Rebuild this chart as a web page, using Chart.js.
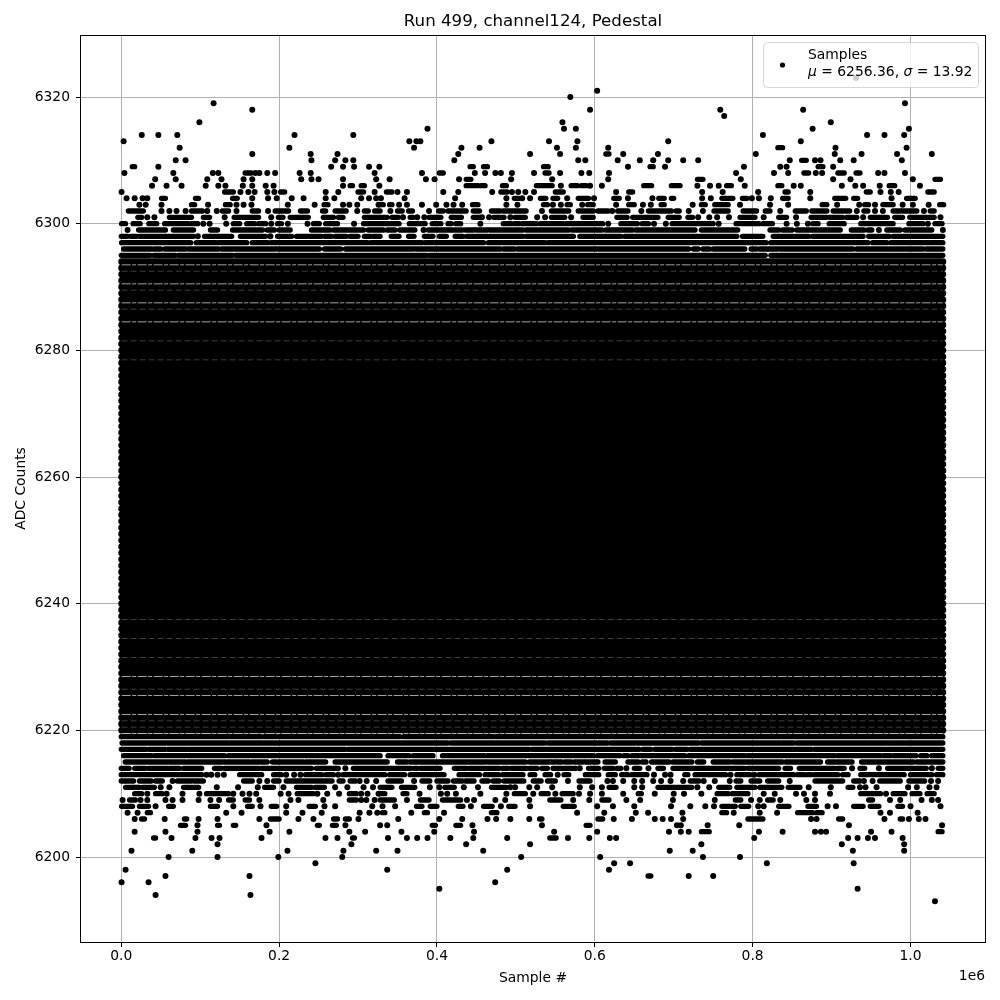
<!DOCTYPE html>
<html><head><meta charset="utf-8">
<script src="https://cdn.jsdelivr.net/npm/chart.js@4/dist/chart.umd.js"></script>
<style>html,body{margin:0;padding:0;background:#fff}#w{width:1000px;height:1000px}</style>
</head><body><div id="w"><canvas id="c" width="1000" height="1000"></canvas></div>
<script>
const chartTitle = "Run 499, channel124, Pedestal";
const xLabel = "Sample #";
const yLabel = "ADC Counts";
const xOffsetText = "1e6";
const legendName = "Samples";
const legendMu = "6256.36";
const legendSigma = "13.92";
const xTicks = [0, 200000, 400000, 600000, 800000, 1000000];
const yTicks = [6200, 6220, 6240, 6260, 6280, 6300, 6320];
const xRange = [-51000, 1094400];
const yRange = [6186.58, 6329.79];

// ADC levels hit for the whole run (thousands of samples, first to last)
const fullRun = [0.5, 1041];
const fullLevels = [6220,6221,6222,6223,6224,6225,6226,6227,6228,6229,6230,6231,6232,6233,6234,6235,6236,6237,6238,6239,6240,6241,6242,6243,6244,6245,6246,6247,6248,6249,6250,6251,6252,6253,6254,6255,6256,6257,6258,6259,6260,6261,6262,6263,6264,6265,6266,6267,6268,6269,6270,6271,6272,6273,6274,6275,6276,6277,6278,6279,6280,6281,6282,6283,6284,6285,6286,6287,6288,6289,6290,6291,6292,6293,6294];
// thin gaps between neighbouring levels
const strongGaps = [6219.5,6222.5,6225.5,6228.5,6284.5,6287.5,6290.5,6293.5];
const faintGaps = [6220.5,6221.5,6226.5,6231.5,6234.5,6237.5,6278.5,6281.5,6286.5,6289.5,6292.5];

// Sparse levels: a number is one sample (thousands), a pair is a run of touching samples
const rowLevels = [6323,6321,6320,6319,6318,6317,6316,6315,6314,6313,6312,6311,6310,6309,6308,6307,6306,6305,6304,6303,6302,6301,6300,6299,6298,6297,6296,6295,
 6219,6218,6217,6216,6215,6214,6213,6212,6211,6210,6209,6208,6207,6206,6205,6204,6203,6202,6201,6200,6199,6198,6197,6196,6195,6194,6193];
const rowSamples = [
/*6323*/[931],
/*6321*/[603],
/*6320*/[569],
/*6319*/[117,993],
/*6318*/[166,594,759,864],
/*6317*/[764],
/*6316*/[99,559,899],
/*6315*/[388,561,576,876,998],
/*6314*/[26,47,71,219.5,294,813,945,967,992],
/*6313*/[3,365,374,379,469,542,578,693,861],
/*6312*/[74,213,371,431,454,552,576,617,[832,838],905,995],
/*6311*/[166,240,274,427,518,556,[614,618],636,680,804,904,938,983,1027],
/*6310*/[69,81.5,241,271,284,294,422,579,588,629,657,674,693,712,731,847,[862,868],879,886,911,928,989],
/*6309*/[[14,17],47,266,281,295,314,327,[442,446],[459,464],[535,541],642,[670,674],689,789,835,843,[883,889],902],
/*6308*/[4,66,116,123,[157,165],170,175,185,195,226,240,321,381,[403,408],448,461,474,481,495,523,[537,542],556,583,593,618,779,827,845,[865,871],880,888,[908,916],[931,936],959,967,993],
/*6307*/[43,69,109,127,155,166,228,241,250,281,323,340,386,397,428,[437,443],494,546,617,[730,737],785,902,924,1003,[1031,1038]],
/*6306*/[39,57.4,76.4,107,123,132,154,166,183,193,281,[290,293],[304,308],327,[437,452],[456,461],[483,488],[526,546],557,[570,578],[583,589],594,609,[662,672],[697,708],730,746,757,[767,773],790,[832,837],852,861,913,930,940,961,[973,980],1012],
/*6305*/[0.4,[131,142],151,161,169,185,194,[202,207],259,275,[300,307],321,[336,343],350,362,408,427,470,[481,489],495,503,512,523,[550,560],627,[643,648],736,762,807,[841,845],873,[944,949],962,975,985,[1022,1030]],
/*6304*/[6.7,17,27,33,[51,56],[94,98],[141,147],166,186,197,216,231,259,270,304,314,323,329,359,423,488,[498,504],508,518,[531,538],[547,553],565,[579,592],599,[624,631],642,673,[681,688],[697,700],736,747,[761,775],[787,793],799,808,823,[838,845],873,[904,918],[928,933],976,[995,1006]],
/*6303*/[23,31,51,[89,93],110,[132,138],146,155,165,211,245,[257,262],281,289,299,326,[328,332],[340,343],352,362,381,399,412,421,432,[445,452],488,502,[535,540],547,557,[565,569],584,[591,598],627,[643,650],661,671,[684,688],724,[735,740],[752,769],784,822,845,[888,894],907,935,[942,947],955,[965,978],990,1003,1023,[1037,1042]],
/*6302*/[[9,28],51,61,70,81.5,[89,103],109,121,[128,136],146,[166,174],186,[195,212],[227,236],[255,259],[271,285],299,[308,313],[321,328],341,[350,356],[364,369],390,[402,408],[414,437],[446,454],[469,480],[484,513],533,[545,567],[579,598],[604,617],622,[629,642],659,[668,697],[703,707],719,737,[751,769],[788,805],[816,822],835,[854,868],[875,894],[902,923],932,[941,946],955,965,[978,987],[990,1008],1017,[1025,1030]],
/*6301*/[[21,26],33,42,[61,89],[104,112],131,[143,174],190,[199,205],[214,237],[256,269],[275,281],[308,337],[343,351],357,[366,370],375,384,[390,405],[418,431],[446,454],457,466,[472,485],493,[499,512],527,537,[545,562],570,[585,598],[628,641],[648,680],[693,707],[718,724],731,745,755,770,[784,803],814,[833,843],855,[874,894],[897,914],[919,932],940,[949,971],[980,990],[999,1016],[1018,1030],1038],
/*6300*/[[0.4,5.5],[15,24],[35,45],[55,85],[89,97],104,112,133,[142,150],[159,169],[174,183],190,[198,203],211,236,[243.5,251],[259,274],295,[307,352],[365,385],[394,405],[414,418],[424,430],455,[484,494],[498,504],[508,526],[531,560],[564,610],617,[633,654],[660,668],675,690,[698,750],757,[779,808],[813,825],843,856,870,[876,883],[897,916],[937,978],[998,1016],1022,[1031,1040]],
/*6299*/[8,[22,56],[66,91.6],[113,122],[141,179],[185,194],[200,214],[241,264],[269,307],[313,332],[337,347],[353,372],383,[389,432],[436,447],[450,464],[467,479],[481,509],[513,567],[571,609],[614,648],[652,727],[735,781],[822,833],[838,850],[856,883],[885,911],[925,941],[946,951],960,[970,987],[993,1027],1041],
/*6298*/[[0,8],[12,19.4],[23,91.6],97,[105.5,140],[151,183],189,[198,216],[222,254],[257.5,266],[271,285],[290,300],[308,316],[319,328],[342,352],[364,371],[384,395],[403,412],[423,433],[438,509],[513,573],[581,633],[638,780],[787,813],[826,871],[876,940],[947,973],[978,1041]],
/*6297*/[[0.4,88],[95,119.5],[123,159],[166,186],[190,312],[316,381],[385,459],[465,502],[505,537],[541,781],[784,817],[823,946],[952,970],[975,1022],[1024,1041]],
/*6296*/[[3,38.4],[41,50],[55,81.5],[85,123],[127,195],[198,251],[257.5,278],[284,370],[373,480],[484,498],[502,719],[725,731],[737,745],[750,790],[798,805],[809,832],[835,927],[932,1016],[1020,1041]],
/*6295*/[[0,37],[41,69],[72.5,141],[145,387],[390,816],[823,978],[980,1041]],
/*6219*/[[0,177],[181,196],[200,353],[358,408],[410,471],[475,678],[681,1041]],
/*6218*/[[1,136],[138,414],[418,484],[486,537],[541,616],[620,651],[654,731],[735,835],[837,852],[856,945],[947,978],[980,1041]],
/*6217*/[[0,32],[35,56],[59,84],[86,284],[287,517],[520,656],[661,671],[676,698],[702,717],[721,875],[878,969],[971,1041]],
/*6216*/[[3,38],[42,110],[113,131],[136,167],[170,243.5],[246,269],[271,328],[338,365],[370,395],[407,460],[464,481],[484,503],[505,555],[557,598],[603,632],[637,642],[647,714],[719,790],[794,904],[908,962],[966,975],[979,999],[1002,1007],[1013,1021],[1027,1041]],
/*6215*/[[5,81.5],[84,162.5],[165,185],[191.6,197],[199,231],[233.5,259],[271,337],[350,362],[366,413],[415,461],[464,512],[517,542],[545,550],[553,558],[562,570],[574,585],[588,604],[613,626],[642,655],[660,665],[672,694],[699,723],[730,738],[750,771],[775,838],[842,886],[895,926],[938,1004],[1008,1041]],
/*6214*/[[0,10],[17,31],[35,59],[61,74],[79,102],[118,127],[131,175],[178,241],[247,275],284,[294,367],[371,375],[379,404],[422,438],[441,479],[483,490],[494,514],[517,527],[533,540],[547,576],581,[592,605],[612,623],[628,633],640,[650,657],668,[680,687],[699,790],[794,833],[841,848],[859,904],[907,916],926,[936,942],960,[971,1020],1027,[1035,1041]],
/*6213*/[[0,71.5],[75,102],108,114,122,130,[150,178],[193,203],209,219,227,[233.5,254],[259,269],275,[281,313],[316,334],[340,359],[366,409],[428,454],[461,478],[483,509],[518,524],[537,544],553,[561,567],[588,605],[617,626],[634,642],[647,666],675,689,696,[714,718],[727,766],772,[780,797],802,[808,852],[857,865],[869,874],[878,908],[914,921],[937,992],[1000,1027],[1033,1041]],
/*6212*/[[0,15.6],[23,38],[43.5,52],65,[71,89],[92,104],[155,166],175,185,[193,200],[209,267],[276,281],[290,297],302,311,323,[338,355],371,[381,391],[400,414],[421,432],[436,447],[457,465],[471,479],[485,510],[522,532],[540,550],566,[580,594],616,623,636,650,660,674,684,696,712,[721,732],738,752,771,[779,785],[798,809],[819,833],847,[879,914],[928,936],941,952,[961,987],[998,1018],1026,1035],
/*6211*/[[5.5,23],[27,42],50,61,[79,98],121,148,173,[181.5,193],205.5,[222,241],[246,257.5],271,286.5,307,319,[328,343],[355,372],391,403,[410,422],434,452,[469,488],493,499,517,527,546,581,596.6,609,[618,627],650,660,[680,723],730,745,[757,771],[780,803],[809,837],[845,860],871,899,[921,927],936,943,957,997,1008,1024,1033],
/*6210*/[[17,26],33,[43.5,52],57.5,77.6,99,[108,136],142,153.6,162.5,171,202,212,[223,243.5],248.5,261,276,[289,298],304,312,326,[328,334],[357,362],378,405,413,424,455,488,[498,512],522,[532,541],550,[558.6,572.6],580,594,609,636,[655,659],676,700,713,735,[755,769],[774,794],814,828,855,865,879,898,[937,962],969,[978,993],[1002,1012],[1021,1030]],
/*6209*/[1.7,[10.6,18],24.5,33,56,65,77.6,98,113,124,[136,142],[157,162.5],175,214.4,224.5,256,[289,298],304,310.5,321,[328,346],362,[379,390],[407,430],438,447,474,486.5,517,[543,557],572.6,593,[609,618],640,657.5,699,752,[778,785],798,809,[819,826],835,868,879,[947,952],974,987,1014,1027,1035],
/*6208*/[[0.4,14.4],[23,34.6],43.5,[60,66],[113,122],142,[160,166],176.4,[190,197],209,[238,246],257.5,271,318,331,347,[374,381],[391.5,400],[427,433],443,[459,470],481,[491,499],518,[560,574],603,623,650,696.6,721,740,751,[761,778],[785,795],807,814,[833,846],[870,881],895,905.5,[928,940],[949,960],[984,990],1000,1038],
/*6207*/[8,20.7,[33,37],133,152.4,209,229.6,254,302,314.4,324.4,[331,334],367.5,[384,388],409,[469,476],577.6,612,652,667.5,711,[761,767],776,809,831,[857,876],[881,888],962,974,1009],
/*6206*/[17,[25.7,29.5],55,[80,83],98,122,175,[189,200],224.5,243.5,[269,274],[284,289],300.5,351,403,432,464,475,493,517,[530,533],[604,610],624,647,676,686,696.6,712,[794,813],874,881,[909,914],967,[987,990],998,1010.5,1019],
/*6205*/[[75,81.5],96.6,[122,124.5],[142,145],184,[248.5,251],[267.5,272.5],284,328,337,[394,398],[424,430],445,533,[589,594],704,709,743,783,922,1040],
/*6204*/[17,56,96.6,188,213,289,309,355,396.6,447,548.5,603,694,709,719,[735,745],808,838,879,886.5,893,950,976,[1035,1040]],
/*6203*/[[41,43.5],63.7,94,114.4,124.5,177.7,258.7,274,[293,295.4],338,362,375,388,417,446,489,[543,551],566,593,619,627,802,921,933,946,955,990],
/*6202*/[122,291.6,437,518,735,913,992],
/*6201*/[13,90,210.6,281.5,323,350,458.6,695,724,927,992],
/*6200*/[60,122,199,280,506.7,606.8,737,784],
/*6199*/[246,624.5,644.7,818,928],
/*6198*/[5.5,337,489,618],
/*6197*/[56,162.5,[667.5,671],719,750],
/*6196*/[0.4,34.6,473.8],
/*6195*/[403,933],
/*6194*/[43.5,163.7],
/*6193*/[1031]
];

const dots = [];
const runs = [];
rowLevels.forEach((lv, i) => {
  rowSamples[i].forEach(s => {
    if (Array.isArray(s)) {
      runs.push({x: s[0]*1000, y: lv}, {x: s[1]*1000, y: lv}, {x: s[1]*1000, y: null});
    } else {
      dots.push({x: s*1000, y: lv});
    }
  });
});
const core = [];
fullLevels.forEach(lv => core.push({x: fullRun[0]*1000, y: lv}, {x: fullRun[1]*1000, y: lv}, {x: fullRun[1]*1000, y: null}));
function gapLine(arr){
  const d = [];
  arr.forEach(lv => d.push({x: fullRun[0]*1000, y: lv}, {x: fullRun[1]*1000, y: lv}, {x: fullRun[1]*1000, y: null}));
  return d;
}

const frameAndLegend = {
  id: 'frameAndLegend',
  afterDraw(chart) {
    const g = chart.ctx, a = chart.chartArea;
    g.save();
    g.strokeStyle = '#000'; g.lineWidth = 1;
    g.strokeRect(Math.round(a.left)-0.5, Math.round(a.top)+0.5, Math.round(a.right-a.left)+1, Math.round(a.bottom-a.top));
    // legend box
    const bx = 763.5, by = 42.5, bw = 215, bh = 45, r = 4;
    g.beginPath(); g.roundRect(bx, by, bw, bh, r);
    g.fillStyle = 'rgba(255,255,255,0.8)'; g.fill();
    g.strokeStyle = 'rgba(204,204,204,0.8)'; g.lineWidth = 1; g.stroke();
    g.fillStyle = '#000';
    g.beginPath(); g.arc(782.5, 65, 2.6, 0, Math.PI*2); g.fill();
    g.textBaseline = 'alphabetic'; g.textAlign = 'left';
    const font = '13.89px "DejaVu Sans"', ital = 'italic 13.89px "DejaVu Sans"';
    g.font = font; g.fillText(legendName, 808, 59);
    const parts = [['μ',ital],[' = '+legendMu+', ',font],['σ',ital],[' = '+legendSigma,font]];
    let x = 808;
    parts.forEach(p => { g.font = p[1]; g.fillText(p[0], x, 75.5); x += g.measureText(p[0]).width; });
    // axis offset text
    g.font = font; g.textAlign = 'right';
    g.fillText(xOffsetText, 985, 980);
    g.restore();
  }
};

new Chart(document.getElementById('c').getContext('2d'), {
  type: 'scatter',
  plugins: [frameAndLegend],
  data: { datasets: [
    { label:'gapsStrong', data: gapLine(strongGaps), showLine:true, pointRadius:0, borderColor:'rgba(255,255,255,0.7)', borderWidth:0.9, borderDash:[9,1.5,4,1.5], spanGaps:false, order:0 },
    { label:'gapsFaint', data: gapLine(faintGaps), showLine:true, pointRadius:0, borderColor:'rgba(255,255,255,0.3)', borderWidth:0.8, borderDash:[6,3], spanGaps:false, order:0 },
    { label:legendName, data: dots, showLine:false, pointRadius:3, pointBackgroundColor:'#000', pointBorderWidth:0, order:1 },
    { label:'runs', data: runs, showLine:true, pointRadius:0, borderColor:'#000', borderWidth:5.3, borderCapStyle:'round', spanGaps:false, order:1 },
    { label:'core', data: core, showLine:true, pointRadius:0, borderColor:'#000', borderWidth:6.8, borderCapStyle:'round', spanGaps:false, order:2 }
  ]},
  options: {
    responsive:false, animation:false, devicePixelRatio:1,
    layout:{ padding:{ left:0, right:15, top:0, bottom:0 } },
    plugins:{
      legend:{ display:false }, tooltip:{ enabled:false },
      title:{ display:true, fullSize:false, text:chartTitle, color:'#000', font:{ family:'"DejaVu Sans"', size:16.67, weight:'normal', lineHeight:1.2 }, padding:{ top:12, bottom:3 } }
    },
    scales:{
      x:{ type:'linear', min:xRange[0], max:xRange[1],
        afterBuildTicks(s){ s.ticks = xTicks.map(v=>({value:v})); },
        afterFit(s){ s.height = 58; },
        grid:{ color:'#b0b0b0', lineWidth:1, tickColor:'#000', tickLength:5 },
        border:{ display:false },
        ticks:{ color:'#000', font:{ family:'"DejaVu Sans"', size:13.89 }, maxRotation:0, autoSkip:false, padding:1, callback:v=>(v/1e6).toFixed(1) },
        title:{ display:true, text:xLabel, color:'#000', font:{ family:'"DejaVu Sans"', size:13.89 }, padding:{ top:0, bottom:13.5 } }
      },
      y:{ type:'linear', min:yRange[0], max:yRange[1],
        afterBuildTicks(s){ s.ticks = yTicks.map(v=>({value:v})); },
        afterFit(s){ s.width = 81; },
        grid:{ color:'#b0b0b0', lineWidth:1, tickColor:'#000', tickLength:5 },
        border:{ display:false },
        ticks:{ color:'#000', font:{ family:'"DejaVu Sans"', size:13.89 }, autoSkip:false, padding:6, callback:v=>String(v) },
        title:{ display:true, text:yLabel, color:'#000', font:{ family:'"DejaVu Sans"', size:13.89 }, padding:{ top:13, bottom:0 } }
      }
    }
  }
});
</script></body></html>
